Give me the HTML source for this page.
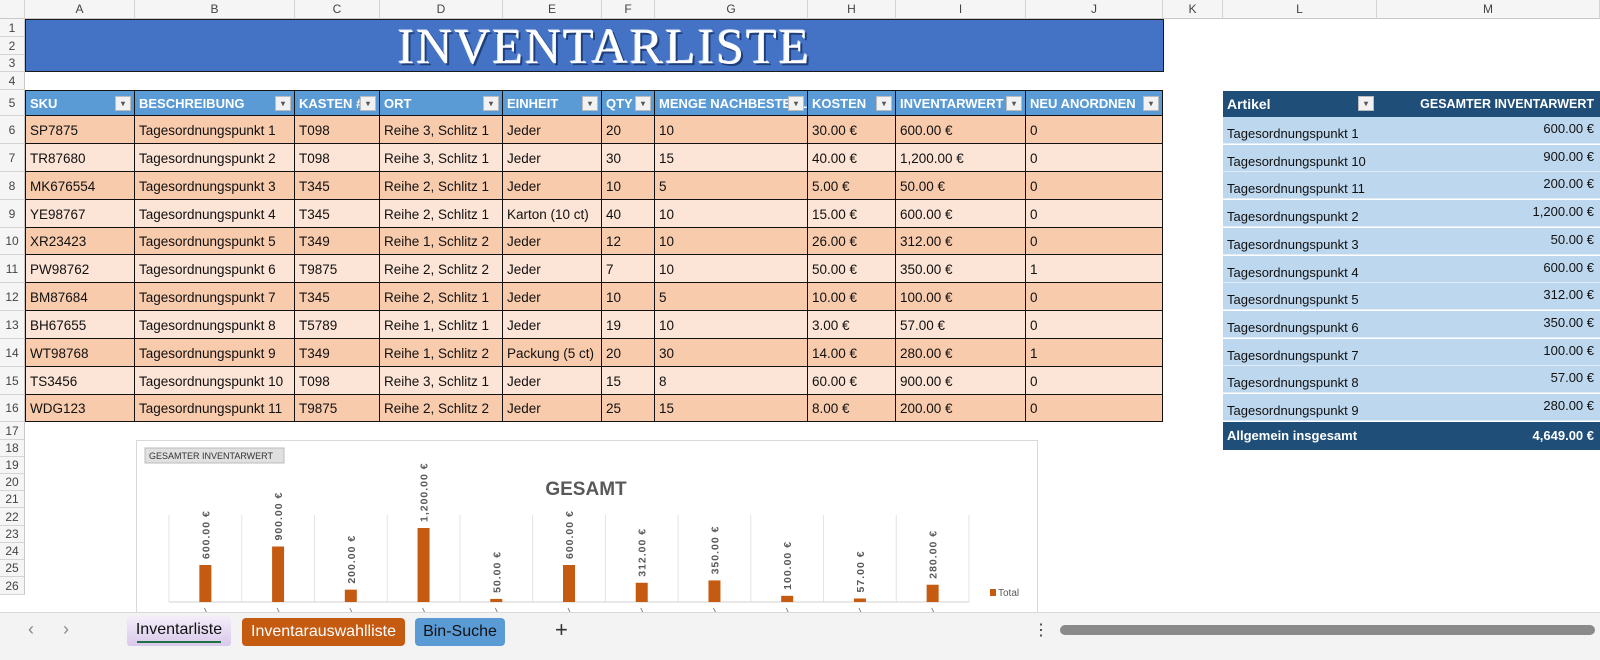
<!DOCTYPE html>
<html><head><meta charset="utf-8">
<style>
*{box-sizing:border-box;margin:0;padding:0}
body{width:1600px;height:660px;overflow:hidden;background:#fff;font-family:"Liberation Sans",Arial,sans-serif;position:relative}
.abs{position:absolute}
.colh{position:absolute;top:0;height:19px;background:#f5f5f5;border-right:1px solid #d4d4d4;border-bottom:1px solid #c8c8c8;font-size:12px;color:#444;text-align:center;line-height:19px}
.rowh{position:absolute;left:0;width:25px;background:#f5f5f5;border-bottom:1px solid #d4d4d4;border-right:1px solid #c8c8c8;font-size:12px;color:#444;text-align:center}
.cell{position:absolute;font-size:13.5px;color:#111;padding-left:4px;white-space:nowrap;overflow:hidden;border-right:1px solid #111;border-bottom:1px solid #111}
.hd{background:#5b9bd5;color:#fff;font-weight:bold;font-size:13px}
.dd{position:absolute;top:5px;right:3px;width:16px;height:15px;background:#f2f2f2;border:1px solid #bbb;font-size:8px;color:#555;text-align:center;line-height:14px}
.pv{position:absolute;font-size:13px;white-space:nowrap}
</style></head><body>
<div id="grid"></div>
<div class="abs" style="left:25px;top:19px;width:1139px;height:53px;background:#4472c4;border:1px solid #1a1a1a;text-align:center">
<span style="font-family:'Liberation Serif',serif;font-size:50px;color:#fff;letter-spacing:2px;line-height:52px;text-shadow:2px 2px 0 #1f3f7a,-1px -1px 0 #dfe8f7;position:relative;left:10px">INVENTARLISTE</span></div>
<div id="tbl"></div>
<div id="pivot"></div>
<svg id="chart" class="abs" style="left:136px;top:440px" width="902" height="174"></svg>
<div class="abs" style="left:0;top:612px;width:1600px;height:48px;background:#f3f3f3;border-top:1px solid #d8d8d8">
<span class="abs" style="left:28px;top:6px;color:#888;font-size:18px">‹</span>
<span class="abs" style="left:63px;top:6px;color:#888;font-size:18px">›</span>
<div class="abs" style="left:127px;top:3px;width:104px;height:30px;background:linear-gradient(#f4eefa,#d9c8ea);border-radius:3px;font-size:16px;text-align:center;line-height:28px;color:#111">Inventarliste<div style="position:absolute;left:10px;right:10px;bottom:3px;height:2px;background:#1e7145"></div></div>
<div class="abs" style="left:242px;top:5px;width:163px;height:28px;background:#c55a11;border-radius:4px;font-size:16px;text-align:center;line-height:28px;color:#fff">Inventarauswahlliste</div>
<div class="abs" style="left:415px;top:5px;width:90px;height:28px;background:#5b9bd5;border-radius:4px;font-size:16px;text-align:center;line-height:28px;color:#111">Bin-Suche</div>
<span class="abs" style="left:555px;top:4px;font-size:22px;color:#333">+</span>
<span class="abs" style="left:1033px;top:7px;font-size:16px;color:#333">⋮</span>
<div class="abs" style="left:1060px;top:12px;width:535px;height:10px;border-radius:5px;background:#8a8a8a"></div>
</div>
<script>
const cats=["Tagesordnungspunkt 1","Tagesordnungspunkt 10","Tagesordnungspunkt 11","Tagesordnungspunkt 2","Tagesordnungspunkt 3","Tagesordnungspunkt 4","Tagesordnungspunkt 5","Tagesordnungspunkt 6","Tagesordnungspunkt 7","Tagesordnungspunkt 8","Tagesordnungspunkt 9"];
const totals=[600,900,200,1200,50,600,312,350,100,57,280];
const valueLabels=["600.00 €","900.00 €","200.00 €","1,200.00 €","50.00 €","600.00 €","312.00 €","350.00 €","100.00 €","57.00 €","280.00 €"];
const rows=[
["SP7875","Tagesordnungspunkt 1","T098","Reihe 3, Schlitz 1","Jeder","20","10","30.00 €","600.00 €","0"],
["TR87680","Tagesordnungspunkt 2","T098","Reihe 3, Schlitz 1","Jeder","30","15","40.00 €","1,200.00 €","0"],
["MK676554","Tagesordnungspunkt 3","T345","Reihe 2, Schlitz 1","Jeder","10","5","5.00 €","50.00 €","0"],
["YE98767","Tagesordnungspunkt 4","T345","Reihe 2, Schlitz 1","Karton (10 ct)","40","10","15.00 €","600.00 €","0"],
["XR23423","Tagesordnungspunkt 5","T349","Reihe 1, Schlitz 2","Jeder","12","10","26.00 €","312.00 €","0"],
["PW98762","Tagesordnungspunkt 6","T9875","Reihe 2, Schlitz 2","Jeder","7","10","50.00 €","350.00 €","1"],
["BM87684","Tagesordnungspunkt 7","T345","Reihe 2, Schlitz 1","Jeder","10","5","10.00 €","100.00 €","0"],
["BH67655","Tagesordnungspunkt 8","T5789","Reihe 1, Schlitz 1","Jeder","19","10","3.00 €","57.00 €","0"],
["WT98768","Tagesordnungspunkt 9","T349","Reihe 1, Schlitz 2","Packung (5 ct)","20","30","14.00 €","280.00 €","1"],
["TS3456","Tagesordnungspunkt 10","T098","Reihe 3, Schlitz 1","Jeder","15","8","60.00 €","900.00 €","0"],
["WDG123","Tagesordnungspunkt 11","T9875","Reihe 2, Schlitz 2","Jeder","25","15","8.00 €","200.00 €","0"]];
const headers=["SKU","BESCHREIBUNG","KASTEN #","ORT","EINHEIT","QTY","MENGE NACHBESTELLEN","KOSTEN","INVENTARWERT","NEU ANORDNEN"];
const colX=[25,135,295,380,503,602,655,808,896,1026,1163,1223,1377,1600];
const letters="ABCDEFGHIJKLM";
const rowY=[19,37,55,72,90,116,144,172,200,228,255,283,311,339,367,395,422,440,457,474,491,508,526,543,560,577,595,612];
const grid=document.getElementById('grid');
const cc=document.createElement('div');cc.className='colh';cc.style.left='0px';cc.style.width='25px';


grid.appendChild(cc);
for(let i=0;i<13;i++){const d=document.createElement('div');d.className='colh';d.style.left=colX[i]+'px';d.style.width=(colX[i+1]-colX[i])+'px';d.textContent=letters[i];


grid.appendChild(d);}
for(let r=0;r<26;r++){const d=document.createElement('div');d.className='rowh';d.style.top=rowY[r]+'px';const h=rowY[r+1]-rowY[r];d.style.height=h+'px';d.style.lineHeight=h+'px';d.textContent=r+1;


grid.appendChild(d);}
const tbl=document.getElementById('tbl');
for(let c=0;c<10;c++){const d=document.createElement('div');d.className='cell hd';d.style.left=colX[c]+'px';d.style.top='90px';d.style.width=(colX[c+1]-colX[c])+'px';d.style.height='26px';d.style.lineHeight='25px';d.style.borderTop='1px solid #111';if(c==0)d.style.borderLeft='1px solid #111';
d.innerHTML=headers[c]+'<span class="dd">▾</span>';


tbl.appendChild(d);}
for(let r=0;r<11;r++){for(let c=0;c<10;c++){const d=document.createElement('div');d.className='cell';d.style.left=colX[c]+'px';const y=rowY[r+5],h=rowY[r+6]-y;d.style.top=y+'px';d.style.width=(colX[c+1]-colX[c])+'px';d.style.height=h+'px';d.style.lineHeight=(h+1)+'px';d.style.background=r%2?'#fce4d6':'#f8cbad';if(c==0)d.style.borderLeft='1px solid #111';d.textContent=rows[r][c];


tbl.appendChild(d);}}
const pv=document.getElementById('pivot');
function pcell(x,y,w,h,bg,txt,name,extra){const d=document.createElement('div');d.className='pv';d.style.left=x+'px';d.style.top=y+'px';d.style.width=w+'px';d.style.height=h+'px';d.style.background=bg;d.style.cssText+=extra;d.innerHTML=txt;


pv.appendChild(d);}
pcell(1223,91,154,26,'#1f4e78','Artikel<span class="dd" style="top:5px">▾</span>','pivot-header-artikel','color:#fff;font-weight:bold;padding-left:4px;line-height:26px;font-size:14px;');
pcell(1377,91,223,26,'#1f4e78','GESAMTER INVENTARWERT','pivot-header-value','color:#fff;font-weight:bold;text-align:right;padding-right:6px;line-height:26px;font-size:12.5px;');
for(let i=0;i<cats.length;i++){const y=117+i*27.7;
pcell(1223,y,377,27,'#bdd7ee','','pivot-row-'+(i+1),'border-bottom:1px solid #e0ecf7;');
pcell(1223,y,154,27,'transparent',cats[i],'pivot-label-'+(i+1),'padding-left:4px;line-height:34px;color:#111;');
pcell(1377,y,223,27,'transparent',valueLabels[i],'pivot-value-'+(i+1),'text-align:right;padding-right:6px;line-height:24px;color:#111;');}
pcell(1223,422,154,28,'#1f4e78','Allgemein insgesamt','pivot-total-label','color:#fff;font-weight:bold;padding-left:4px;line-height:28px;');
pcell(1377,422,223,28,'#1f4e78','4,649.00 €','pivot-total-value','color:#fff;font-weight:bold;text-align:right;padding-right:6px;line-height:28px;');
// chart
const svg=document.getElementById('chart');const NS='http://www.w3.org/2000/svg';
function el(t,a,p){const e=document.createElementNS(NS,t);for(const k in a)e.setAttribute(k,a[k]);(p||svg).appendChild(e);return e;}
const bg=el('rect',{x:0.5,y:0.5,width:901,height:180,fill:'#fff',stroke:'#d9d9d9'});


const fb=el('rect',{x:9,y:8,width:139,height:15,fill:'#e0e0e0',stroke:'#bbb'});


const ft=el('text',{x:13,y:19,'font-size':9,fill:'#333','font-family':'Liberation Sans'});ft.textContent='GESAMTER INVENTARWERT';


const tt=el('text',{x:450,y:55,'font-size':19,'font-weight':'bold',fill:'#595959','text-anchor':'middle','font-family':'Liberation Sans'});tt.textContent='GESAMT';


const plotL=33,plotR=833,base=162,maxV=1200,maxH=74;
const step=(plotR-plotL)/totals.length;
const xc=i=>plotL+step*(i+0.5);
const yv=v=>base-v/maxV*maxH;
for(let i=0;i<=totals.length;i++){const g=el('line',{x1:plotL+step*i,x2:plotL+step*i,y1:75,y2:base,stroke:'#e3e3e3'});

}
const ax=el('line',{x1:plotL,x2:plotR,y1:base,y2:base,stroke:'#d0d0d0'});


totals.forEach((v,i)=>{
const b=el('rect',{x:xc(i)-6,y:yv(v),width:12,height:base-yv(v),fill:'#c55a11'});


const ly=yv(v)-6;
const t=el('text',{x:xc(i)+4,y:ly,'font-size':10.5,fill:'#595959','font-weight':'bold','letter-spacing':'1','font-family':'Liberation Sans',transform:'rotate(-90 '+(xc(i)+4)+' '+ly+')'});t.textContent=valueLabels[i];


const tk=el('line',{x1:xc(i)-1,x2:xc(i)+1,y1:base+6,y2:base+10,stroke:'#888'});


});
const lg=el('rect',{x:854,y:149,width:6,height:7,fill:'#c55a11'});


const lt=el('text',{x:862,y:156,'font-size':10,fill:'#595959','font-family':'Liberation Sans'});lt.textContent='Total';


</script>
</body></html>
